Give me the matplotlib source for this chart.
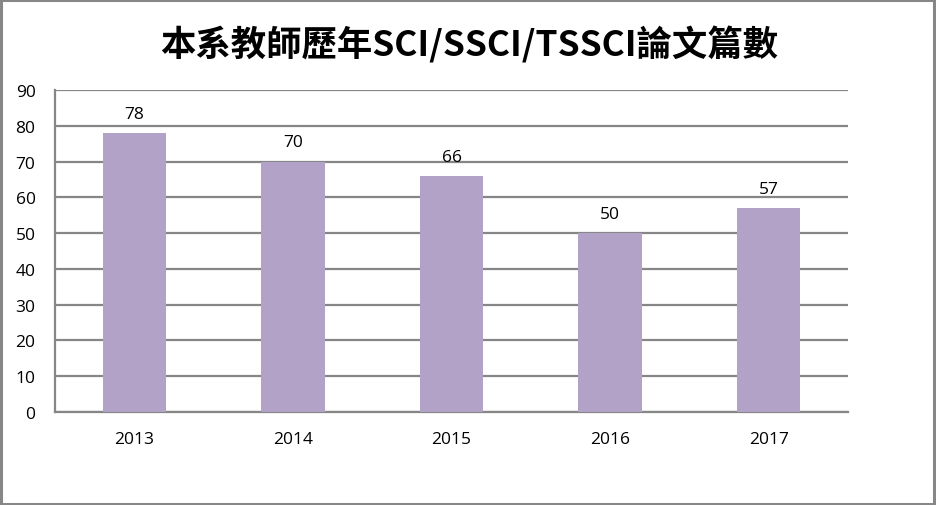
import matplotlib
matplotlib.use('Agg')
import matplotlib.pyplot as plt
from matplotlib.patches import Rectangle

years = ['2013', '2014', '2015', '2016', '2017']
papers = [78, 70, 66, 50, 57]
title = '本系教師歷年SCI/SSCI/TSSCI論文篇數'

bar_color = '#b3a2c7'
grid_color = '#868686'

plt.rcParams['font.family'] = ['Open Sans', 'DejaVu Sans']

fig = plt.figure(figsize=(9.36, 5.06), dpi=100)
ax = fig.add_axes([55 / 936, 93 / 506, 793 / 936, 322 / 506])

x = range(len(years))
bars = ax.bar(x, papers, width=0.4, color=bar_color, zorder=3)
for xi, v in zip(x, papers):
    ax.annotate(str(v), (xi, v), xytext=(0, 8), textcoords='offset points',
                ha='center', va='bottom', fontsize=12.5, color='black')

ax.set_xlim(-0.5, len(years) - 0.5)
ax.set_ylim(0, 90)
ax.set_yticks(range(0, 91, 10))
ax.set_xticks(list(x))
ax.set_xticklabels(years)
ax.tick_params(axis='both', length=0, labelsize=12.5, colors='black')
ax.tick_params(axis='y', pad=14)
ax.tick_params(axis='x', pad=14)
ax.yaxis.grid(True, color=grid_color, linewidth=1.6, zorder=0)
ax.set_axisbelow(True)
for side in ['top', 'right']:
    ax.spines[side].set_visible(False)
for side in ['left', 'bottom']:
    ax.spines[side].set_color(grid_color)
    ax.spines[side].set_linewidth(1.6)

fig.text(0.501, 0.912, title, ha='center', va='center', fontsize=25.5,
         fontweight='bold', family=['Noto Sans CJK TC', 'DejaVu Sans'])

fig.patches.append(Rectangle((0.001, 0.002), 0.997, 0.996, transform=fig.transFigure,
                             fill=False, edgecolor='#878787', linewidth=2.2))

fig.savefig('out.png', dpi=100)
